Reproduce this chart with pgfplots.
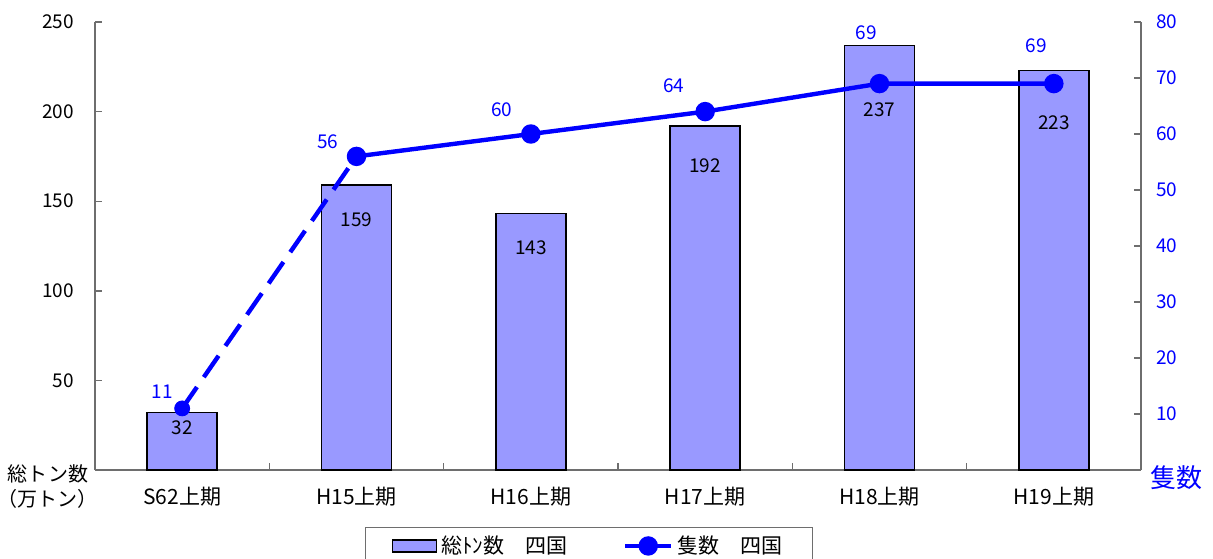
\documentclass[border=0pt]{standalone}
\usepackage{pgfplots}
\pgfplotsset{compat=1.18}
\usepackage{fontspec}
\setmainfont{Noto Sans CJK JP}

\definecolor{barfill}{RGB}{153,153,255}
\definecolor{lineblue}{RGB}{0,0,255}
\definecolor{axisgray}{RGB}{110,110,110}

\pgfplotsset{
  barlegend/.style={legend image code/.code={
    \draw[fill=barfill, draw=black, line width=0.75pt] (0pt,-3pt) rectangle (22pt,3pt);}},
  linelegend/.style={legend image code/.code={
    \draw[##1, mark repeat=2, mark phase=2] plot coordinates {(0pt,0pt) (11.5pt,0pt) (23pt,0pt)};}},
  every axis/.append style={
    scale only axis, width=523pt, height=224pt,
    xmin=-0.5, xmax=5.5, clip=false,
    font=\fontsize{9.5}{11}\selectfont,
    /pgf/number format/assume math mode=true,
    tick align=inside, major tick length=3.5pt, minor tick length=3.5pt,
  },
}

\begin{document}
\begin{tikzpicture}
% bars, left axis
\begin{axis}[
  axis x line*=bottom, axis y line*=left,
  axis line style={axisgray, line width=0.7pt},
  ymin=0, ymax=250, ytick={50,100,...,250},
  ytick style={axisgray, line width=0.7pt},
  yticklabel style={xshift=-7pt},
  xtick={0,...,5},
  xticklabels={S62上期,H15上期,H16上期,H17上期,H18上期,H19上期},
  xticklabel style={yshift=-5pt, font=\fontsize{10.5}{12}\selectfont},
  major x tick style={draw=none},
  minor xtick={0.5,1.5,...,4.5},
  minor x tick style={axisgray, line width=0.7pt},
]
\addplot[ybar, bar width=35pt, fill=barfill, draw=black, line width=0.75pt]
  coordinates {(0,32) (1,159) (2,143) (3,192) (4,237) (5,223)};
\node at (axis cs:0,23.7) {32};
\node at (axis cs:1,139.4) {159};
\node at (axis cs:2,124.3) {143};
\node at (axis cs:3,169.6) {192};
\node at (axis cs:4,200.8) {237};
\node at (axis cs:5,193.6) {223};
\node[align=center, inner sep=0pt, font=\fontsize{10}{11}\selectfont]
  at ([xshift=-23.5pt, yshift=-8.25pt]rel axis cs:0,0)
  {総トン数\\[1.5pt]（万トン）};
\end{axis}
% ships, right axis
\begin{axis}[
  axis x line=none, axis y line*=right,
  axis line style={axisgray, line width=0.7pt},
  ymin=0, ymax=80, ytick={10,20,...,80},
  ytick style={axisgray, line width=0.7pt},
  yticklabel style={lineblue, xshift=4pt},
  legend style={at={(0.258,-0.127)}, anchor=north west, draw=axisgray,
    line width=0.7pt, font=\fontsize{10.5}{12}\selectfont,
    inner xsep=13pt, inner ysep=2pt},
  legend columns=2,
  legend cell align=left,
  /tikz/every even column/.append style={column sep=26pt},
]
\addlegendimage{barlegend}
\addlegendentry{総ﾄﾝ数　四国}
\addplot[lineblue, line width=2.2pt, dash pattern=on 13pt off 6pt, forget plot]
  coordinates {(0,11) (1,56)};
\addplot[lineblue, line width=2.2pt, mark=*, mark size=3.75pt,
  mark options={solid, fill=lineblue}, linelegend]
  coordinates {(1,56) (2,60) (3,64) (4,69) (5,69)};
\addlegendentry{隻数　四国}
\addplot[only marks, lineblue, mark=*, mark size=3.75pt, forget plot]
  coordinates {(0,11)};
\begin{scope}[lineblue]
\node at (axis cs:-0.115,13.9) {11};
\node at (axis cs:0.834,58.6) {56};
\node at (axis cs:1.834,64.3) {60};
\node at (axis cs:2.82,68.6) {64};
\node at (axis cs:3.925,78.0) {69};
\node at (axis cs:4.9,75.7) {69};
\end{scope}
\node[lineblue, font=\fontsize{13}{14}\selectfont] at ([xshift=17.5pt, yshift=-4pt]rel axis cs:1,0) {隻数};
\end{axis}
\pgfresetboundingbox
\path (-47.5pt,-44pt) rectangle (559pt,235pt);
\end{tikzpicture}
\end{document}
